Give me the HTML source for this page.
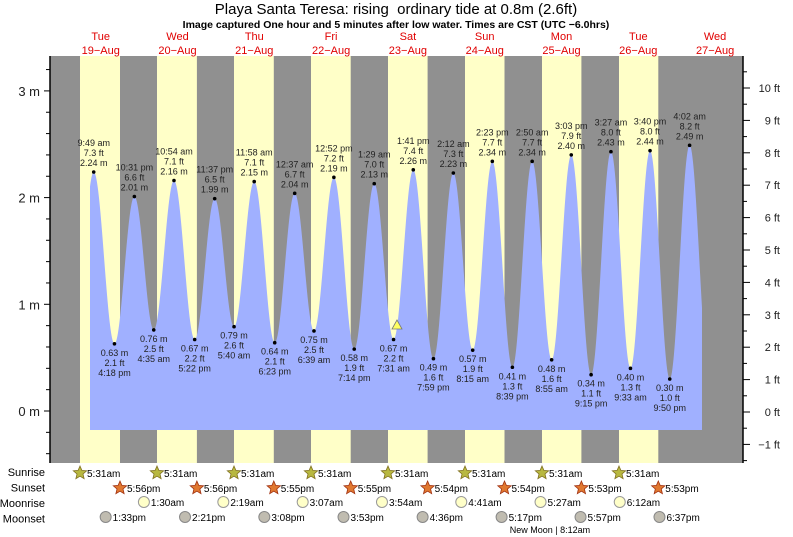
<!DOCTYPE html>
<html><head><meta charset="utf-8"><style>
body{margin:0;background:#fff;}
svg{display:block;font-family:"Liberation Sans",sans-serif;}
</style></head><body>
<svg id="s" width="793" height="537" xmlns="http://www.w3.org/2000/svg"></svg>
<script>
var s=document.getElementById('s');var h='';
var X0=62.3,PH=3.2,Y0=411,PM=106.7;
function X(d,hr){return X0+((d-19)*24+hr)*PH;}
function Y(m){return Y0-m*PM;}
function t(x,y,str,o){o=o||{};h+='<text x="'+x+'" y="'+y+'" font-size="'+(o.fs||9)+'" fill="'+(o.c||'#222')+'" text-anchor="'+(o.a||'middle')+'"'+(o.w?' font-weight="bold"':'')+'>'+str+'</text>';}
// background
h+='<rect x="50" y="56" width="693" height="407" fill="#909090"/>';
for(var k=0;k<8;k++){h+='<rect x="'+(80+77*k)+'" y="56" width="'+(40-k*0.1)+'" height="407" fill="#ffffc8"/>';}
// tide data
var ev=[[19,9.82,2.24,1],[19,16.3,0.63,0],[19,22.52,2.01,1],[20,4.58,0.76,0],[20,10.9,2.16,1],[20,17.37,0.67,0],[20,23.62,1.99,1],[21,5.67,0.79,0],[21,11.97,2.15,1],[21,18.38,0.64,0],[22,0.62,2.04,1],[22,6.65,0.75,0],[22,12.87,2.19,1],[22,19.23,0.58,0],[23,1.48,2.13,1],[23,7.52,0.67,0],[23,13.68,2.26,1],[23,19.98,0.49,0],[24,2.2,2.23,1],[24,8.25,0.57,0],[24,14.38,2.34,1],[24,20.65,0.41,0],[25,2.83,2.34,1],[25,8.92,0.48,0],[25,15.05,2.40,1],[25,21.25,0.34,0],[26,3.45,2.43,1],[26,9.55,0.40,0],[26,15.67,2.44,1],[26,21.83,0.30,0],[27,4.03,2.49,1],[27,10.2,0.30,0]];
var lab=[["9:49 am","7.3 ft","2.24 m"],["0.63 m","2.1 ft","4:18 pm"],["10:31 pm","6.6 ft","2.01 m"],["0.76 m","2.5 ft","4:35 am"],["10:54 am","7.1 ft","2.16 m"],["0.67 m","2.2 ft","5:22 pm"],["11:37 pm","6.5 ft","1.99 m"],["0.79 m","2.6 ft","5:40 am"],["11:58 am","7.1 ft","2.15 m"],["0.64 m","2.1 ft","6:23 pm"],["12:37 am","6.7 ft","2.04 m"],["0.75 m","2.5 ft","6:39 am"],["12:52 pm","7.2 ft","2.19 m"],["0.58 m","1.9 ft","7:14 pm"],["1:29 am","7.0 ft","2.13 m"],["0.67 m","2.2 ft","7:31 am"],["1:41 pm","7.4 ft","2.26 m"],["0.49 m","1.6 ft","7:59 pm"],["2:12 am","7.3 ft","2.23 m"],["0.57 m","1.9 ft","8:15 am"],["2:23 pm","7.7 ft","2.34 m"],["0.41 m","1.3 ft","8:39 pm"],["2:50 am","7.7 ft","2.34 m"],["0.48 m","1.6 ft","8:55 am"],["3:03 pm","7.9 ft","2.40 m"],["0.34 m","1.1 ft","9:15 pm"],["3:27 am","8.0 ft","2.43 m"],["0.40 m","1.3 ft","9:33 am"],["3:40 pm","8.0 ft","2.44 m"],["0.30 m","1.0 ft","9:50 pm"],["4:02 am","8.2 ft","2.49 m"]];
var pts=[[X(19,3.6),0.62]];
ev.forEach(function(e){pts.push([X(e[0],e[1]),e[2]]);});
var d='M90,430';
for(var x=90;x<=702;x+=0.5){
 var i=0;while(i<pts.length-2&&pts[i+1][0]<x)i++;
 var a=pts[i],b=pts[i+1];var f=(x-a[0])/(b[0]-a[0]);
 var v=a[1]+(b[1]-a[1])*(1-Math.cos(Math.PI*f))/2;
 d+=' L'+x+','+Y(v).toFixed(1);
}
d+=' L702,430 Z';
h+='<path d="'+d+'" fill="#a0b0ff"/>';
ev.forEach(function(e,i){if(i>=lab.length)return;var x=X(e[0],e[1]),y=Y(e[2]);
 h+='<circle cx="'+x+'" cy="'+y+'" r="1.8" fill="#000"/>';var L=lab[i];
 if(e[3]){t(x,y-26,L[0]);t(x,y-16,L[1]);t(x,y-6,L[2]);}
 else{t(x,y+12,L[0]);t(x,y+22,L[1]);t(x,y+32,L[2]);}
});
h+='<polygon points="397,320 392,329 402,329" fill="#ffff60" stroke="#777" stroke-width="0.8"/>';
// axes
h+='<line x1="50" y1="56" x2="50" y2="463" stroke="#000" stroke-width="1.5"/>';
h+='<line x1="743" y1="56" x2="743" y2="463" stroke="#000" stroke-width="1.5"/>';
for(var m=-0.4;m<=3.3;m+=0.2){var y=Y(m);var major=Math.abs(m-Math.round(m))<0.01;h+='<line x1="'+(major?44:46)+'" y1="'+y+'" x2="50" y2="'+y+'" stroke="#000"/>';if(major)t(40,y+5,Math.round(m)+' m',{fs:13,a:'end'});}
for(var ft=-1.5;ft<=10.6;ft+=0.5){var y=412-ft*32.4;var major=Math.abs(ft-Math.round(ft))<0.01;h+='<line x1="743" y1="'+y+'" x2="'+(major?750:747)+'" y2="'+y+'" stroke="#000"/>';if(major&&ft>=-1)t(780,y+4,(ft<0?'\u22121':Math.round(ft))+' ft',{fs:11,a:'end'});}
// title
t(396,14,'Playa Santa Teresa: rising&#160; ordinary tide at 0.8m (2.6ft)',{fs:15,c:'#000'});
t(396,28,'Image captured One hour and 5 minutes after low water. Times are CST (UTC \u22126.0hrs)',{fs:10.5,c:'#000',w:1});
var dn=['Tue','Wed','Thu','Fri','Sat','Sun','Mon','Tue','Wed'];
for(var k=0;k<9;k++){var x=X(19+k,12);t(x,40,dn[k],{fs:11,c:'#e00000'});t(x,54,(19+k)+'\u2212Aug',{fs:11,c:'#e00000'});}
// bottom rows
['Sunrise','Sunset','Moonrise','Moonset'].forEach(function(n,i){t(45,476+i*15.5,n,{fs:11,a:'end',c:'#000'});});
function star(cx,cy,fc,sc){var p='';for(var i=0;i<10;i++){var r=i%2?3.2:7,an=-Math.PI/2+i*Math.PI/5;p+=(cx+r*Math.cos(an)).toFixed(1)+','+(cy+r*Math.sin(an)).toFixed(1)+' ';}h+='<polygon points="'+p+'" fill="'+fc+'" stroke="'+sc+'" stroke-width="0.8"/>';}
var ss=['5:56pm','5:56pm','5:55pm','5:55pm','5:54pm','5:54pm','5:53pm','5:53pm'];
for(var k=0;k<8;k++){var x=80+77*k;star(x,473,'#b8b840','#807020');t(x+7,477,'5:31am',{fs:10,a:'start',c:'#000'});
 var x2=120+77*k-k*0.1;star(x2,488,'#e07830','#a03010');t(x2+7,492,ss[k],{fs:10,a:'start',c:'#000'});}
var mr=[[20,1.5,'1:30am'],[21,2.32,'2:19am'],[22,3.12,'3:07am'],[23,3.9,'3:54am'],[24,4.68,'4:41am'],[25,5.45,'5:27am'],[26,6.2,'6:12am']];
mr.forEach(function(m){var x=X(m[0],m[1]);h+='<circle cx="'+x+'" cy="'+502+'" r="5.5" fill="#ffffc8" stroke="#999"/>';t(x+7,506,m[2],{fs:10,a:'start',c:'#000'});});
var ms=[[19,13.55,'1:33pm'],[20,14.35,'2:21pm'],[21,15.13,'3:08pm'],[22,15.88,'3:53pm'],[23,16.6,'4:36pm'],[24,17.28,'5:17pm'],[25,17.95,'5:57pm'],[26,18.62,'6:37pm']];
ms.forEach(function(m){var x=X(m[0],m[1]);h+='<circle cx="'+x+'" cy="'+517+'" r="5.5" fill="#c0bcb0" stroke="#888"/>';t(x+7,521,m[2],{fs:10,a:'start',c:'#000'});});
t(550,533,'New Moon | 8:12am',{fs:9,c:'#000'});
s.innerHTML=h;
</script>
</body></html>
